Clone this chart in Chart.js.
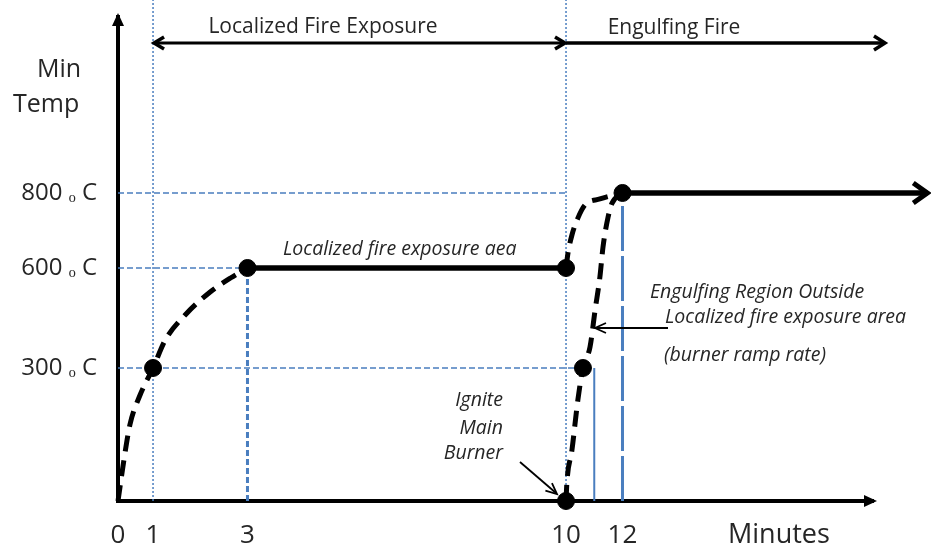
<!DOCTYPE html>
<html>
<head>
<meta charset="utf-8">
<script src="https://cdn.jsdelivr.net/npm/chart.js@4"></script>
<style>
  html, body { margin: 0; background: #fff; }
  #wrap { width: 931px; height: 546px; }
</style>
</head>
<body>
<div id="wrap"><canvas id="fireChart"></canvas></div>
<script>
// tick labels
var minuteTicks = [0, 1, 3, 10, 12];
var tempTicks = [300, 600, 800];

// localized fire exposure ramp, 0 -> 600 C
var rampMinutes = [0, 0.17, 0.34, 0.63, 1, 1.26, 1.68, 2.21, 2.64, 3];
var rampTemps = [0, 93, 172, 239, 300, 384, 459, 528, 570, 600];

// localized fire exposure hold at 600 C
var holdMinutes = [3, 10];
var holdTemps = [600, 600];

// localized area going to 800 C once the main burner is lit
var localMinutes = [10, 10.07, 10.21, 10.42, 10.67, 11.2, 12];
var localTemps = [600, 640, 688, 733, 768, 784, 800];

// engulfing region outside localized area (burner ramp rate)
var burnerMinutes = [10, 10.03, 10.21, 10.42, 10.6, 10.85, 11.03, 11.2, 11.31, 11.49, 11.63, 12];
var burnerTemps = [0, 41, 115, 228, 300, 363, 474, 573, 656, 736, 773, 800];

// engulfing fire at 800 C
var engulfMinutes = [12, 19.3];
var engulfTemps = [800, 800];

// marked points
var keyMinutes = [1, 3, 10, 12, 10.6, 10];
var keyTemps = [300, 600, 600, 800, 300, 0];

// blue guide lines
var guideH800 = [0, 10];
var guideH600 = [0, 3];
var guideH300 = [0, 10.6];

var blue = '#4a7ebf';

// axis is schematic, not to scale: piecewise linear between knots [value, fraction]
var knots = {
  x: [[0, 0], [1, 0.0464], [3, 0.1715], [10, 0.5934], [12, 0.6682], [18, 1]],
  y: [[0, 0], [300, 0.2748], [600, 0.4814], [800, 0.6364], [1200, 1]]
};

function knotSeg(k, v, col) {
  var i = 1;
  while (i < k.length - 1 && v > k[i][col]) i++;
  return i;
}

class SchematicScale extends Chart.LinearScale {
  getPixelForValue(v) {
    var k = knots[this.id];
    var i = knotSeg(k, v, 0);
    var f = k[i - 1][1] + (v - k[i - 1][0]) / (k[i][0] - k[i - 1][0]) * (k[i][1] - k[i - 1][1]);
    return this.getPixelForDecimal(f);
  }
  getValueForPixel(p) {
    var k = knots[this.id];
    var f = this.getDecimalForPixel(p);
    var i = knotSeg(k, f, 1);
    return k[i - 1][0] + (f - k[i - 1][1]) / (k[i][1] - k[i - 1][1]) * (k[i][0] - k[i - 1][0]);
  }
}
SchematicScale.id = 'schematic';
SchematicScale.defaults = Chart.LinearScale.defaults;
Chart.register(SchematicScale);

function pts(xs, ys) {
  return xs.map(function (x, i) { return { x: x, y: ys[i] }; });
}
function flat(xs, t) {
  return xs.map(function (x) { return { x: x, y: t }; });
}
function vert(m, t0, t1) {
  return [{ x: m, y: t0 }, { x: m, y: t1 }];
}

function arrowHead(ctx, x, y, ang, len, half, filled) {
  ctx.save();
  ctx.translate(x, y);
  ctx.rotate(ang);
  ctx.beginPath();
  ctx.moveTo(-len, -half);
  ctx.lineTo(0, 0);
  ctx.lineTo(-len, half);
  if (filled) { ctx.closePath(); ctx.fill(); } else { ctx.stroke(); }
  ctx.restore();
}

function line(ctx, x0, y0, x1, y1, w) {
  ctx.lineWidth = w;
  ctx.beginPath();
  ctx.moveTo(x0, y0);
  ctx.lineTo(x1, y1);
  ctx.stroke();
}

var it = 'italic 19.5px "Open Sans"';
var labels = [
  { t: 'Min', x: 37, y: 70, f: '25px "Open Sans"', a: 'left' },
  { t: 'Temp', x: 13, y: 105, f: '25px "Open Sans"', a: 'left' },
  { t: 'Minutes', x: 728, y: 535, f: '27px "Open Sans"', a: 'left' },
  { t: 'Localized Fire Exposure', x: 323, y: 27, f: '21px "Open Sans"', a: 'center' },
  { t: 'Engulfing Fire', x: 674, y: 28, f: '21px "Open Sans"', a: 'center' },
  { t: 'Localized fire exposure aea', x: 283, y: 249, f: it, a: 'left' },
  { t: 'Engulfing Region Outside', x: 650, y: 292, f: it, a: 'left' },
  { t: 'Localized fire exposure area', x: 665, y: 317, f: it, a: 'left' },
  { t: '(burner ramp rate)', x: 664, y: 355, f: it, a: 'left' },
  { t: 'Ignite', x: 503, y: 400, f: it, a: 'right' },
  { t: 'Main', x: 503, y: 428, f: it, a: 'right' },
  { t: 'Burner', x: 503, y: 453, f: it, a: 'right' }
];

var overlay = {
  id: 'overlay',
  afterDraw: function (chart) {
    var ctx = chart.ctx, a = chart.chartArea, xs = chart.scales.x;
    ctx.save();
    ctx.fillStyle = '#000';
    ctx.strokeStyle = '#000';
    ctx.lineCap = 'butt';
    ctx.lineJoin = 'miter';

    // axis arrows
    arrowHead(ctx, a.right + 4, a.bottom, 0, 13, 6, true);
    arrowHead(ctx, a.left, a.top - 4, -Math.PI / 2, 13, 6, true);

    // phase arrows across the top
    var ty = 43, x1 = xs.getPixelForValue(1), x10 = xs.getPixelForValue(10);
    line(ctx, x1 + 2, ty, x10 - 2, ty, 3);
    line(ctx, x10, ty, a.right + 10, ty, 3.5);
    ctx.lineWidth = 3.5;
    arrowHead(ctx, x1 + 1, ty, Math.PI, 10, 6, false);
    arrowHead(ctx, x10 - 1, ty, 0, 10, 6, false);
    arrowHead(ctx, a.right + 12, ty, 0, 11, 7, false);

    // end of engulfing fire line
    var meta = chart.getDatasetMeta(4);
    var last = meta.data[meta.data.length - 1];
    ctx.lineWidth = 5;
    arrowHead(ctx, last.x, last.y, 0, 14, 10, false);

    // annotation pointers
    line(ctx, 520, 462, 556, 493, 1.8);
    arrowHead(ctx, 557, 494, Math.atan2(32, 37), 11, 5, false);
    line(ctx, 668, 328, 596, 328, 1.8);
    arrowHead(ctx, 595, 328, Math.PI, 11, 5, false);

    // text
    ctx.fillStyle = '#262626';
    ctx.textBaseline = 'middle';
    labels.forEach(function (l) {
      ctx.font = l.f;
      ctx.textAlign = l.a;
      ctx.fillText(l.t, l.x, l.y);
    });
    ctx.restore();
  }
};

var black = { borderColor: '#000', backgroundColor: '#000', pointRadius: 0, clip: false, fill: false };

function ds(extra) {
  return Object.assign({}, black, extra);
}

function noPad(s) {
  s.paddingTop = 0; s.paddingBottom = 0; s.paddingLeft = 0; s.paddingRight = 0;
}

new Chart(document.getElementById('fireChart'), {
  type: 'line',
  data: {
    datasets: [
      ds({ label: 'key points', data: pts(keyMinutes, keyTemps), showLine: false, pointRadius: 8.5, pointHoverRadius: 8.5 }),
      ds({ label: 'ramp', data: pts(rampMinutes, rampTemps), borderWidth: 5, borderDash: [16, 9], cubicInterpolationMode: 'monotone' }),
      ds({ label: 'hold', data: pts(holdMinutes, holdTemps), borderWidth: 5.5 }),
      ds({ label: 'local to 800', data: pts(localMinutes, localTemps), borderWidth: 5, borderDash: [16, 9], cubicInterpolationMode: 'monotone' }),
      ds({ label: 'engulfing fire', data: pts(engulfMinutes, engulfTemps), borderWidth: 5.5 }),
      ds({ label: 'burner ramp', data: pts(burnerMinutes, burnerTemps), borderWidth: 5, borderDash: [16, 9], cubicInterpolationMode: 'monotone' }),
      ds({ label: 'g800', data: flat(guideH800, 800), borderColor: blue, borderWidth: 1.6, borderDash: [6, 3] }),
      ds({ label: 'g600', data: flat(guideH600, 600), borderColor: blue, borderWidth: 1.6, borderDash: [6, 3] }),
      ds({ label: 'g300', data: flat(guideH300, 300), borderColor: blue, borderWidth: 1.6, borderDash: [6, 3] }),
      ds({ label: 'v1', data: vert(1, 0, 1250), borderColor: blue, borderWidth: 1.5, borderDash: [2, 2] }),
      ds({ label: 'v10', data: vert(10, 0, 1250), borderColor: blue, borderWidth: 1.5, borderDash: [2, 2] }),
      ds({ label: 'v3', data: vert(3, 0, 600), borderColor: blue, borderWidth: 3, borderDash: [6, 3] }),
      ds({ label: 'v12', data: vert(12, 0, 800), borderColor: blue, borderWidth: 3, borderDash: [45, 5] }),
      ds({ label: 'v11', data: vert(11, 0, 300), borderColor: blue, borderWidth: 2 })
    ]
  },
  options: {
    responsive: true,
    maintainAspectRatio: false,
    animation: false,
    events: [],
    layout: { padding: { top: 17, right: 58, left: 0, bottom: 0 } },
    plugins: { legend: { display: false }, tooltip: { enabled: false } },
    scales: {
      x: {
        type: 'schematic',
        min: 0,
        max: 18,
        grid: { display: false, drawTicks: false },
        border: { display: true, color: '#000', width: 4 },
        afterFit: function (s) { s.height = 45; noPad(s); },
        afterBuildTicks: function (s) { s.ticks = minuteTicks.map(function (v) { return { value: v }; }); },
        ticks: {
          autoSkip: false,
          maxRotation: 0,
          padding: 19,
          color: '#262626',
          font: { family: '"Open Sans"', size: 26 },
          callback: function (v) { return String(v); }
        }
      },
      y: {
        type: 'schematic',
        min: 0,
        max: 1200,
        grid: { display: false, drawTicks: false },
        border: { display: true, color: '#000', width: 4 },
        afterFit: function (s) { s.width = 118; noPad(s); },
        afterBuildTicks: function (s) { s.ticks = tempTicks.map(function (v) { return { value: v }; }); },
        ticks: {
          autoSkip: false,
          padding: 21,
          color: '#262626',
          font: { family: '"Open Sans"', size: 24 },
          callback: function (v) { return v + ' \u2092 C'; }
        }
      }
    }
  },
  plugins: [overlay]
});
</script>
</body>
</html>
